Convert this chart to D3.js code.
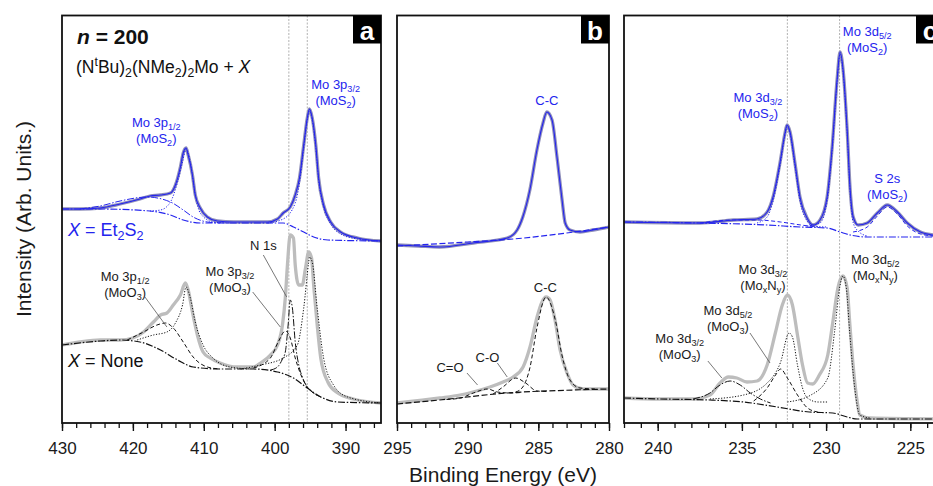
<!DOCTYPE html>
<html>
<head>
<meta charset="utf-8">
<script src="https://cdn.jsdelivr.net/npm/d3@7"></script>
<style>
  body { margin: 0; background: #fff; }
  svg { display: block; font-family: "Liberation Sans", Arial, Helvetica, sans-serif; }
</style>
</head>
<body>
<div id="visual"></div>
<script>
// values: [binding energy (eV), intensity (arb. units)]

// ---- panel a : Mo 3p / N 1s ----
let ticksA = [430, 420, 410, 400, 390]
let refLinesA = [398.0, 395.4]

let moEtData = [[430, 214], [427.5, 214], [424.6, 215], [421.8, 219], [419.0, 224], [417.6, 227], [416.1, 228], [414.7, 230], [414.0, 238], [413.3, 256], [412.9, 270], [412.5, 275], [412.2, 268], [411.6, 248], [411.2, 228], [410.5, 215], [409.5, 206], [408.1, 202], [405.8, 201], [403.4, 201], [401.0, 201], [399.6, 204], [398.8, 210], [397.8, 216], [397.1, 228], [396.5, 245], [395.9, 278], [395.4, 305], [395.1, 314], [394.7, 305], [394.2, 278], [393.8, 245], [393.1, 218], [392.1, 201], [390.7, 191], [388.3, 185], [385, 182]]
let moEtBg = [[430, 214], [424.6, 214], [417.6, 212], [414.7, 208], [412.9, 203], [410.5, 200], [398.8, 200], [397.35, 196], [395.9, 191], [394.5, 186], [392.5, 183], [385, 182]]
let moEtBump = [[427.5, 214], [424.6, 217], [421.8, 222], [418.0, 226], [414.7, 221], [412.9, 213], [411.5, 206], [409.5, 201], [407.7, 200]]
let moEt3p12 = [[417.6, 212], [416.1, 213], [414.7, 221], [413.7, 241], [413.0, 261], [412.5, 274], [411.9, 261], [411.2, 228], [410.5, 210], [408.7, 201], [406.3, 200]]
let moEt3p32 = [[401.0, 200], [398.8, 204], [397.1, 220], [396.5, 240], [395.9, 275], [395.4, 303], [395.1, 312], [394.7, 303], [394.2, 275], [393.8, 243], [393.1, 216], [392.1, 199], [390.7, 189], [388.3, 184], [385, 182]]

let moNoneData = [[430, 78], [427.5, 81], [424.6, 83], [421.8, 83], [420.0, 85], [418.5, 91], [417.1, 101], [416.1, 108], [415.2, 110], [414.3, 118], [413.3, 128], [412.6, 140], [412.2, 133], [411.6, 111], [410.9, 88], [410.1, 71], [409.1, 65], [407.7, 60], [405.3, 56], [403.0, 56], [402.0, 60], [400.6, 68], [399.6, 78], [398.9, 98], [398.5, 125], [398.2, 158], [397.8, 188], [397.35, 185], [397.1, 158], [396.6, 138], [396.1, 138], [395.65, 155], [395.2, 171], [394.8, 165], [394.5, 138], [394.0, 98], [393.5, 65], [392.5, 41], [391.1, 30], [388.9, 24], [385, 20]]
let moNoneBg = [[430, 78], [424.6, 82], [421.8, 83], [419.0, 81], [416.1, 73], [413.7, 63], [411.5, 56], [407.7, 54], [403.0, 54], [399.6, 51], [397.35, 45], [395.4, 35], [393.5, 26], [391.1, 21], [385, 20]]
let moNone3p12Ox = [[420.8, 83], [418.5, 91], [416.6, 98], [415.4, 100], [414.3, 95], [412.9, 81], [411.5, 66], [409.5, 56], [407.7, 54]]
let moNone3p12 = [[419.4, 83], [417.1, 88], [415.2, 91], [414.0, 100], [413.0, 118], [412.5, 136], [411.9, 125], [411.2, 101], [410.1, 78], [408.7, 65], [406.3, 56], [403.4, 54]]
let moNone3p32Ox = [[403.0, 55], [400.6, 65], [399.5, 81], [398.5, 92], [397.8, 85], [397.1, 65], [396.4, 50], [395.6, 38], [394.7, 31], [393.5, 26]]
let moNoneN1s = [[400.6, 53], [399.6, 56], [398.9, 64], [398.5, 71], [398.1, 98], [397.8, 123], [397.5, 115], [397.1, 81], [396.6, 58], [396.1, 46], [395.4, 36], [394.5, 30], [393.5, 26]]
let moNone3p32 = [[404.8, 54], [402.0, 58], [398.8, 65], [396.8, 78], [395.9, 115], [395.2, 161], [395.1, 166], [394.7, 161], [394.0, 115], [393.1, 65], [391.7, 38], [389.7, 26], [385, 20]]

// ---- panel b : C 1s ----
let ticksB = [295, 290, 285, 280]

let cEtData = [[295, 178], [293.5, 177], [292, 176], [289.6, 180], [287.2, 185], [286.5, 193], [286.1, 206], [285.6, 233], [285.1, 273], [284.67, 300], [284.4, 311], [284.03, 303], [283.68, 266], [283.32, 223], [283.1, 200], [282.76, 193], [282.05, 191], [281.13, 193], [280, 196]]
let cEtBg = [[295, 177], [290, 181], [286, 185], [283, 190], [280, 196]]

let cNoneData = [[295, 20], [291.96, 25], [290.54, 28], [289.62, 31], [288.42, 36], [287.5, 41], [286.79, 46], [286.08, 56], [285.59, 76], [285.09, 106], [284.74, 121], [284.45, 126], [284.17, 123], [283.82, 103], [283.46, 73], [282.97, 50], [282.54, 38], [281.84, 34], [280, 34]]
let cNoneBg = [[295, 19], [292, 23], [287.2, 30], [282.5, 33], [280, 34]]
let cNoneCdO = [[291.5, 23.5], [290.5, 25], [289.6, 30], [288.6, 34], [287.9, 31], [287.0, 30], [286.2, 30.5]]
let cNoneCO = [[288.2, 29], [287.5, 36], [286.6, 45], [285.9, 40], [285.1, 32], [284.4, 31.5]]
let cNoneCC = [[286.6, 31], [286.1, 36], [285.6, 55], [285.1, 95], [284.45, 126], [283.8, 103], [283.3, 66], [282.76, 43], [282.05, 35], [281.0, 34]]

// ---- panel c : Mo 3d / S 2s ----
let ticksC = [240, 235, 230, 225]
let refLinesC = [232.3, 229.2]

let dEtData = [[242, 201], [237.5, 200], [235.5, 203], [234.1, 204], [233.5, 211], [233.15, 226], [232.74, 260], [232.44, 290], [232.32, 298], [232.14, 291], [231.85, 260], [231.55, 226], [231.13, 205], [230.77, 198], [230.36, 203], [229.94, 226], [229.64, 276], [229.35, 343], [229.17, 371], [228.99, 353], [228.75, 293], [228.57, 233], [228.39, 206], [228.1, 198], [227.56, 200], [226.96, 210], [226.37, 218], [225.77, 211], [225.18, 200], [224.4, 191], [223.63, 188], [223, 187]]
let dEtBg = [[242, 201], [237.5, 200], [233.5, 198], [231.55, 196], [229.94, 195], [229.17, 191], [228.57, 188], [227.56, 186], [223, 186]]
let dEtBump = [[237.5, 200], [235.5, 203], [234.1, 203], [232.7, 201], [231.5, 198], [230.5, 196]]
let dEt3d32 = [[234.1, 200], [233.5, 206], [233.15, 222], [232.74, 257], [232.44, 288], [232.32, 296], [232.14, 289], [231.85, 257], [231.55, 222], [231.13, 202], [230.77, 197], [230.0, 196]]
let dEt3d52 = [[231.13, 197], [230.36, 200], [229.94, 222], [229.64, 273], [229.35, 340], [229.17, 369], [228.99, 350], [228.75, 290], [228.57, 230], [228.39, 200], [228.1, 192], [227.56, 187]]
let dEtS2s = [[228.4, 191], [227.56, 196], [226.96, 207], [226.37, 216], [225.77, 209], [225.18, 197], [224.4, 189], [223.63, 187], [223, 186]]

let dNoneData = [[242, 25], [239.9, 24], [237.9, 24], [236.9, 28], [236.3, 40], [235.8, 46], [235.3, 45], [234.7, 41], [234.1, 42], [233.5, 58], [233.0, 91], [232.6, 118], [232.3, 128], [232.0, 118], [231.7, 88], [231.4, 58], [231.1, 40], [230.8, 39], [230.4, 48], [229.9, 68], [229.6, 101], [229.3, 135], [229.0, 147], [228.75, 135], [228.6, 101], [228.4, 58], [228.15, 21], [228.0, 8], [227.4, 5], [223, 4]]
let dNoneBg = [[242, 25], [239.9, 24], [236.9, 23], [234.9, 21], [232.9, 16], [231.0, 11], [229.6, 10], [228.75, 6], [228.15, 4], [223, 4]]
let dNone32Ox = [[237.9, 24], [236.9, 30], [236.3, 38], [235.7, 42], [235.1, 38], [234.5, 30], [233.9, 24], [233.3, 20]]
let dNone52Ox = [[234.3, 22], [233.5, 35], [233.0, 48], [232.7, 54], [232.3, 45], [231.7, 28], [231.1, 15], [230.5, 11]]
let dNone32N = [[236.9, 24], [234.9, 28], [233.5, 40], [232.7, 61], [232.2, 90], [232.0, 86], [231.7, 58], [231.4, 35], [231.1, 25], [230.5, 21], [229.9, 21]]
let dNone52N = [[232.3, 21], [230.9, 28], [229.9, 45], [229.5, 91], [229.2, 135], [229.0, 147], [228.8, 135], [228.6, 91], [228.3, 35], [228.0, 8], [227.4, 5]]

// ---- annotations (anchor in eV / intensity) ----
let labelsA = [
    { e: 416.7, v: 296, lines: ["Mo 3p_{1/2}", "(MoS_{2})"], blue: true },
    { e: 391.4, v: 334, lines: ["Mo 3p_{3/2}", "(MoS_{2})"], blue: true },
    { e: 421.1, v: 142, lines: ["Mo 3p_{1/2}", "(MoO_{3})"] },
    { e: 406.3, v: 147, lines: ["Mo 3p_{3/2}", "(MoO_{3})"] },
    { e: 401.6, v: 173, lines: ["N 1s"] }
]
let leadersA = [[418.3, 126, 415.2, 96], [401.6, 168, 398.3, 126], [403.1, 131, 399.2, 96]]

let labelsB = [
    { e: 284.4, v: 318, lines: ["C-C"], blue: true },
    { e: 284.5, v: 131, lines: ["C-C"] },
    { e: 288.6, v: 61, lines: ["C-O"] },
    { e: 291.25, v: 51, lines: ["C=O"] }
]
let leadersB = [[287.9, 60, 287.2, 46], [290.05, 50, 289.3, 38]]

let labelsC = [
    { e: 234.05, v: 321, lines: ["Mo 3d_{3/2}", "(MoS_{2})"], blue: true },
    { e: 227.56, v: 387, lines: ["Mo 3d_{5/2}", "(MoS_{2})"], blue: true },
    { e: 226.37, v: 240, lines: ["S 2s", "(MoS_{2})"], blue: true },
    { e: 233.75, v: 149, lines: ["Mo 3d_{3/2}", "(Mo_{x}N_{y})"] },
    { e: 227.08, v: 159, lines: ["Mo 3d_{5/2}", "(Mo_{x}N_{y})"] },
    { e: 235.83, v: 108, lines: ["Mo 3d_{5/2}", "(MoO_{3})"] },
    { e: 238.69, v: 80, lines: ["Mo 3d_{3/2}", "(MoO_{3})"] }
]
let leadersC = [[234.52, 90, 233.33, 60], [237.02, 62, 236.19, 45]]

// ---- layout ----
let width = 933, height = 486
let plotTop = 15.5, plotBottom = 423
let BLUE = "#2424ee"
let dashes = { dot: "1.2,1.6", dash: "4,2.5", longdash: "6,2.5", dashdot: "7,1.8,1.5,1.8" }

let panels = [
    {
        tag: "a", domain: [430, 385], range: [62, 381], ticks: ticksA, minor: 2, refs: refLinesA, bgDash: "dashdot",
        blue: { data: moEtData, bg: moEtBg, comps: [[moEtBump, "dashdot"], [moEt3p12, "dot"], [moEt3p32, "dot"]] },
        black: { data: moNoneData, bg: moNoneBg, comps: [[moNone3p12Ox, "dash"], [moNone3p12, "dot"], [moNone3p32Ox, "dash"], [moNoneN1s, "dashdot"], [moNone3p32, "dot"]] },
        labels: labelsA, leaders: leadersA
    },
    {
        tag: "b", domain: [295, 280], range: [397, 609], ticks: ticksB, minor: 1, refs: [], bgDash: "longdash",
        blue: { data: cEtData, bg: cEtBg, comps: [] },
        black: { data: cNoneData, bg: cNoneBg, comps: [[cNoneCdO, "dash"], [cNoneCO, "dash"], [cNoneCC, "dash"]] },
        labels: labelsB, leaders: leadersB
    },
    {
        tag: "c", domain: [242, 223], range: [624, 944], ticks: ticksC, minor: 1, refs: refLinesC, bgDash: "dashdot",
        blue: { data: dEtData, bg: dEtBg, comps: [[dEtBump, "dash"], [dEt3d32, "dot"], [dEt3d52, "dot"], [dEtS2s, "dash"]] },
        black: { data: dNoneData, bg: dNoneBg, comps: [[dNone32Ox, "dashdot"], [dNone52Ox, "dash"], [dNone32N, "dot"], [dNone52N, "dot"]] },
        labels: labelsC, leaders: leadersC
    }
]

var svg = d3.select("#visual")
    .append("svg")
    .attr("width", width)
    .attr("height", height)

svg.append("rect").attr("width", width).attr("height", height).attr("fill", "#fff")

let y = d3.scaleLinear().domain([0, 407.5]).range([plotBottom, plotTop])

// text with _{sub}, ^{sup} and *italic* pieces
function rich(text, str, fs) {
    let shift = 0
    str.split(/(_\{[^}]*\}|\^\{[^}]*\}|\*[^*]*\*)/).filter(s => s.length).forEach(s => {
        let t = text.append("tspan"), target = 0, body = s
        if (s.startsWith("_{")) {
            target = fs * 0.2; body = s.slice(2, -1); t.attr("font-size", fs * 0.7)
        } else if (s.startsWith("^{")) {
            target = -fs * 0.4; body = s.slice(2, -1); t.attr("font-size", fs * 0.7)
        } else if (s[0] === "*") {
            body = s.slice(1, -1); t.attr("font-style", "italic")
        }
        t.attr("dy", target - shift).text(body)
        shift = target
    })
}

panels.forEach((p, i) => {
    let x = d3.scaleLinear().domain(p.domain).range(p.range)
    let line = d3.line().x(d => x(d[0])).y(d => y(d[1])).curve(d3.curveMonotoneX)
    let g = svg.append("g")

    svg.append("clipPath").attr("id", "clip" + i)
        .append("rect")
        .attr("x", p.range[0]).attr("y", plotTop)
        .attr("width", p.range[1] - p.range[0]).attr("height", plotBottom - plotTop)

    let inner = g.append("g").attr("clip-path", "url(#clip" + i + ")")

    inner.selectAll("line.ref")
        .data(p.refs)
        .enter()
        .append("line")
        .attr("x1", d => x(d)).attr("x2", d => x(d))
        .attr("y1", plotTop).attr("y2", plotBottom)
        .attr("stroke", "#a8a8a8")
        .attr("stroke-width", 0.9)
        .attr("stroke-dasharray", "2,1.5")

    let seriesList = [
        { s: p.black, color: "#111", dataColor: "#bdbdbd", envelope: false },
        { s: p.blue, color: BLUE, dataColor: "#8f8fba", envelope: true }
    ]
    seriesList.forEach(o => {
        inner.append("path").datum(o.s.data)
            .attr("d", line).attr("fill", "none")
            .attr("stroke", o.dataColor).attr("stroke-width", 3.3)
            .attr("stroke-linejoin", "round")
        if (o.envelope) {
            inner.append("path").datum(o.s.data)
                .attr("d", line).attr("fill", "none")
                .attr("stroke", o.color).attr("stroke-width", 1.1)
        }
        o.s.comps.forEach(c => {
            inner.append("path").datum(c[0])
                .attr("d", line).attr("fill", "none")
                .attr("stroke", o.color).attr("stroke-width", 1)
                .attr("stroke-dasharray", dashes[c[1]])
        })
        inner.append("path").datum(o.s.bg)
            .attr("d", line).attr("fill", "none")
            .attr("stroke", o.color).attr("stroke-width", 1.2)
            .attr("stroke-dasharray", dashes[p.bgDash])
    })

    // leader lines
    g.selectAll("line.leader")
        .data(p.leaders)
        .enter()
        .append("line")
        .attr("x1", d => x(d[0])).attr("y1", d => y(d[1]))
        .attr("x2", d => x(d[2])).attr("y2", d => y(d[3]))
        .attr("stroke", "#555").attr("stroke-width", 0.8)

    // peak labels
    p.labels.forEach(l => {
        l.lines.forEach((txt, k) => {
            let t = g.append("text")
                .attr("x", x(l.e))
                .attr("y", y(l.v) + k * 16)
                .attr("text-anchor", "middle")
                .attr("font-size", 13)
                .attr("fill", l.blue ? BLUE : "#1a1a1a")
            rich(t, txt, 13)
        })
    })

    // axes
    let minorTicks = d3.range(Math.ceil(p.domain[1] / p.minor) * p.minor, p.domain[0] + 0.01, p.minor)
    g.append("g")
        .attr("transform", "translate(0," + plotBottom + ")")
        .call(d3.axisBottom(x).tickValues(minorTicks).tickSize(5).tickSizeOuter(0).tickFormat(""))
        .call(a => a.select(".domain").remove())
        .selectAll("line").attr("stroke", "#111").attr("stroke-width", 1.3)

    let major = g.append("g")
        .attr("transform", "translate(0," + plotBottom + ")")
        .call(d3.axisBottom(x).tickValues(p.ticks).tickSize(8).tickSizeOuter(0).tickFormat(d3.format("d")))
        .call(a => a.select(".domain").remove())
    major.selectAll("line").attr("stroke", "#111").attr("stroke-width", 1.4)
    major.selectAll("text")
        .attr("dy", null).attr("y", 31)
        .attr("font-size", 17)
        .attr("font-family", "Liberation Sans, Arial, sans-serif")
        .attr("fill", "#1a1a1a")

    // frame
    g.append("rect")
        .attr("x", p.range[0]).attr("y", plotTop)
        .attr("width", p.range[1] - p.range[0]).attr("height", plotBottom - plotTop)
        .attr("fill", "none").attr("stroke", "#111").attr("stroke-width", 1.8)

    // panel tag
    g.append("rect")
        .attr("x", p.range[1] - 28).attr("y", plotTop)
        .attr("width", 28).attr("height", 28)
        .attr("fill", "#000")
    g.append("text")
        .attr("x", p.range[1] - 14).attr("y", plotTop + 24)
        .attr("text-anchor", "middle")
        .attr("font-size", 26).attr("font-weight", "bold")
        .attr("fill", "#fff")
        .text(p.tag)

    if (p.tag === "a") {
        let t1 = g.append("text").attr("x", 77).attr("y", 43.5)
            .attr("font-size", 21).attr("font-weight", "bold").attr("fill", "#111")
        rich(t1, "*n* = 200", 21)
        let t2 = g.append("text").attr("x", 76).attr("y", 73)
            .attr("font-size", 17.5).attr("fill", "#111")
        rich(t2, "(N^{t}Bu)_{2}(NMe_{2})_{2}Mo + *X*", 17.5)
        let t3 = g.append("text").attr("x", x(429.15)).attr("y", y(187))
            .attr("font-size", 18).attr("fill", BLUE)
        rich(t3, "*X* = Et_{2}S_{2}", 18)
        let t4 = g.append("text").attr("x", x(429.15)).attr("y", y(56))
            .attr("font-size", 18).attr("fill", "#111")
        rich(t4, "*X* = None", 18)
    }
})

svg.append("text")
    .attr("transform", "translate(31,219) rotate(-90)")
    .attr("text-anchor", "middle")
    .attr("font-size", 21)
    .attr("fill", "#1a1a1a")
    .text("Intensity (Arb. Units.)")

svg.append("text")
    .attr("x", 503).attr("y", 482)
    .attr("text-anchor", "middle")
    .attr("font-size", 21)
    .attr("fill", "#1a1a1a")
    .text("Binding Energy (eV)")
</script>
</body>
</html>
